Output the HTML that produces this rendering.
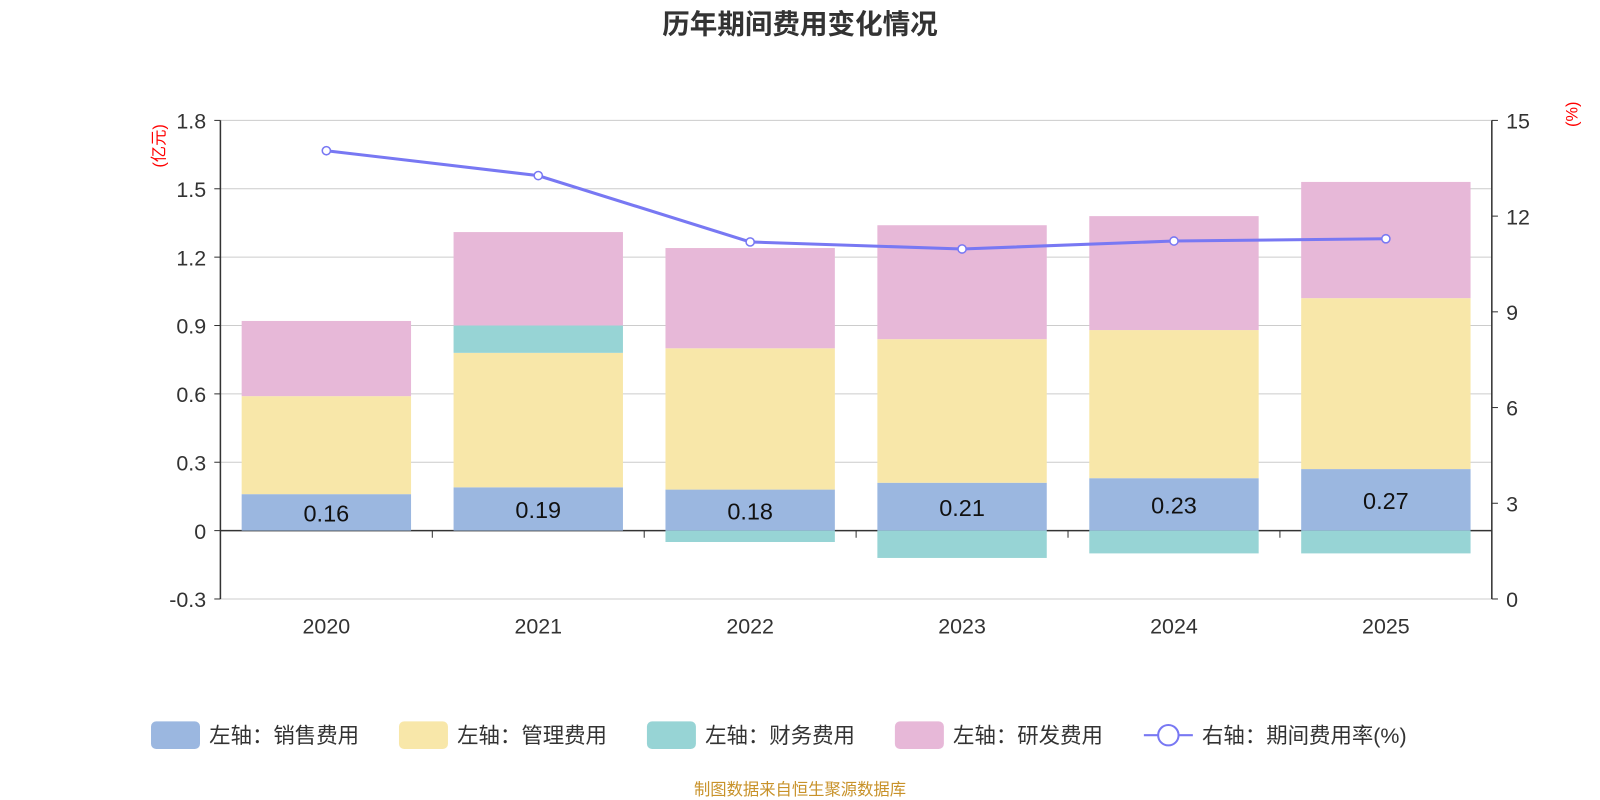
<!DOCTYPE html>
<html><head><meta charset="utf-8"><style>
body{margin:0;background:#fff;}
svg{display:block;font-family:"Liberation Sans","Noto Sans CJK SC",sans-serif;}
</style></head><body>
<svg id="c" width="1600" height="800">
<g transform="scale(1.0204)">
<text x="784" y="33" text-anchor="middle" font-size="27" font-weight="bold" fill="#333">历年期间费用变化情况</text>
<text x="784" y="779" text-anchor="middle" font-size="16" fill="#c8922a">制图数据来自恒生聚源数据库</text>
<g id="plot"></g>
<g id="legend"></g>
</g>
</svg>
<script>
const categories=['2020','2021','2022','2023','2024','2025'];
const sales=[0.16,0.19,0.18,0.21,0.23,0.27];
const mgmt=[0.43,0.59,0.62,0.63,0.65,0.75];
const finance=[0.0,0.12,-0.05,-0.12,-0.10,-0.10];
const rnd=[0.33,0.41,0.44,0.50,0.50,0.51];
const rate=[14.05,13.27,11.19,10.97,11.22,11.29];
const leftTicks=[-0.3,0,0.3,0.6,0.9,1.2,1.5,1.8];
const rightTicks=[0,3,6,9,12,15];
const NS='http://www.w3.org/2000/svg';
const g=document.getElementById('plot');
const X0=216,X1=1462,YT=118,YB=587;
const yL=v=>YB-(v+0.3)/2.1*(YB-YT);
const yR=v=>YB-v/15*(YB-YT);
const bw=(X1-X0)/categories.length;
const xc=i=>X0+bw*(i+0.5);
function el(t,a,p){const e=document.createElementNS(NS,t);for(const k in a)e.setAttribute(k,a[k]);(p||g).appendChild(e);return e;}
leftTicks.forEach(v=>{
 const l=el('line',{x1:X0,x2:X1,y1:yL(v),y2:yL(v),stroke:v===0?'#333':'#ccc','stroke-width':v===0?1.5:1});
 
 
 el('line',{x1:X0-6,x2:X0,y1:yL(v),y2:yL(v),stroke:'#333'});
 const t=el('text',{x:X0-14,y:yL(v)+8,'text-anchor':'end','font-size':21,fill:'#333'});t.textContent=v===0?'0':String(v);
 
 
});
rightTicks.forEach(v=>{
 el('line',{x1:X1,x2:X1+6,y1:yR(v),y2:yR(v),stroke:'#333'});
 const t=el('text',{x:X1+14,y:yR(v)+8,'font-size':21,fill:'#333'});t.textContent=v;
 
 
});
el('line',{x1:X0,x2:X0,y1:YT,y2:YB,stroke:'#333','stroke-width':1.5});
el('line',{x1:X1,x2:X1,y1:YT,y2:YB,stroke:'#333','stroke-width':1.5});
for(let i=1;i<categories.length;i++)el('line',{x1:X0+bw*i,x2:X0+bw*i,y1:yL(0),y2:yL(0)+7,stroke:'#333'});
let u=el('text',{x:0,y:0,'font-size':16,fill:'red',transform:'translate(161,143) rotate(-90)','text-anchor':'middle'});u.textContent='(亿元)';

u=el('text',{x:0,y:0,'font-size':16,fill:'red',transform:'translate(1546,112) rotate(-90)','text-anchor':'middle'});u.textContent='(%)';

const series=[[sales,'#9bb7e0','sales'],[mgmt,'#f8e7a9','mgmt'],[finance,'#97d4d5','finance'],[rnd,'#e7b8d8','rnd']];
categories.forEach((c,i)=>{
 let pos=0,neg=0;const x=xc(i)-83;
 series.forEach(([arr,col,nm])=>{
  const v=arr[i];if(v===0)return;
  let a,b;if(v>0){a=pos;b=pos+v;pos=b;}else{a=neg+v;b=neg;neg=a;}
  const r=el('rect',{x:x,width:166,y:yL(b),height:yL(a)-yL(b),fill:col});
  
  
 });
 const t=el('text',{x:xc(i),y:(yL(0)+yL(sales[i]))/2+9,'text-anchor':'middle','font-size':23,fill:'#111'});t.textContent=sales[i].toFixed(2);
 
 const xl=el('text',{x:xc(i),y:621,'text-anchor':'middle','font-size':21,fill:'#333'});xl.textContent=c;
 
});
const pl=el('polyline',{points:rate.map((v,i)=>xc(i)+','+yR(v)).join(' '),fill:'none',stroke:'#7878f3','stroke-width':3});

rate.forEach((v,i)=>{const p=el('circle',{cx:xc(i),cy:yR(v),r:4,fill:'#fff',stroke:'#7878f3','stroke-width':1.5});
 });
const lg=document.getElementById('legend');
const items=[['左轴：销售费用','#9bb7e0',148],['左轴：管理费用','#f8e7a9',391],['左轴：财务费用','#97d4d5',634],['左轴：研发费用','#e7b8d8',877],['右轴：期间费用率(%)',null,1121]];
items.forEach(([lab,col,x])=>{
 const gg=el('g',{},lg);
 if(col)el('rect',{x:x,y:707,width:48,height:27,rx:5,fill:col},gg);
 else{el('line',{x1:x,x2:x+48,y1:720.5,y2:720.5,stroke:'#7878f3','stroke-width':2},gg);el('circle',{cx:x+24,cy:720.5,r:10,fill:'#fff',stroke:'#7878f3','stroke-width':2},gg);}
 const t=el('text',{x:x+57,y:728,'font-size':21,fill:'#333'},gg);t.textContent=lab;
});
</script>
</body></html>
